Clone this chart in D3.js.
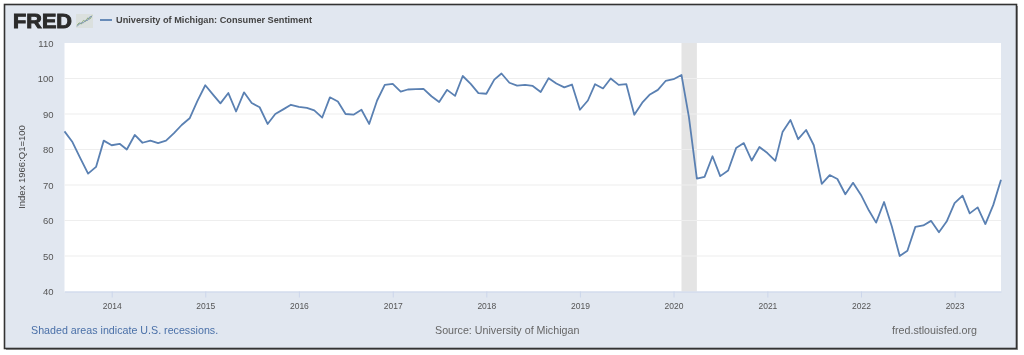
<!DOCTYPE html>
<html>
<head>
<meta charset="utf-8">
<script src="https://cdn.jsdelivr.net/npm/d3@7"></script>
<style>
  html, body { margin: 0; padding: 0; background: #fff; }
  svg { display: block; font-family: "Liberation Sans", Arial, sans-serif; filter: blur(0.4px); }
</style>
</head>
<body>
<div id="chart"></div>
<script>
// monthly values, Jul 2013 .. Jul 2023
const startMonth = [2013, 6];
const sentiment2013 = [85.1, 82.1, 77.5, 73.2, 75.1, 82.5];
const sentiment2014 = [81.2, 81.6, 80.0, 84.1, 81.9, 82.5, 81.8, 82.5, 84.6, 86.9, 88.8, 93.6];
const sentiment2015 = [98.1, 95.4, 93.0, 95.9, 90.7, 96.1, 93.1, 91.9, 87.2, 90.0, 91.3, 92.6];
const sentiment2016 = [92.0, 91.7, 91.0, 89.0, 94.7, 93.5, 90.0, 89.8, 91.2, 87.2, 93.8, 98.2];
const sentiment2017 = [98.5, 96.3, 96.9, 97.0, 97.1, 95.0, 93.4, 96.8, 95.1, 100.7, 98.5, 95.9];
const sentiment2018 = [95.7, 99.7, 101.4, 98.8, 98.0, 98.2, 97.9, 96.2, 100.1, 98.6, 97.5, 98.3];
const sentiment2019 = [91.2, 93.8, 98.4, 97.2, 100.0, 98.2, 98.4, 89.8, 93.2, 95.5, 96.8, 99.3];
const sentiment2020 = [99.8, 101.0, 89.1, 71.8, 72.3, 78.1, 72.5, 74.1, 80.4, 81.8, 76.9, 80.7];
const sentiment2021 = [79.0, 76.8, 84.9, 88.3, 82.9, 85.5, 81.2, 70.3, 72.8, 71.7, 67.4, 70.6];
const sentiment2022 = [67.2, 62.8, 59.4, 65.2, 58.4, 50.0, 51.5, 58.2, 58.6, 59.9, 56.7, 59.7];
const sentiment2023 = [64.9, 67.0, 62.0, 63.7, 59.0, 64.4, 71.5];

const yTicks = [40, 50, 60, 70, 80, 90, 100, 110];
const xTickYears = [2014, 2015, 2016, 2017, 2018, 2019, 2020, 2021, 2022, 2023];
const recession = [new Date(2020, 1, 1), new Date(2020, 3, 1)];

const seriesName = "University of Michigan: Consumer Sentiment";
const yTitle = "Index 1966:Q1=100";
const noteText = "Shaded areas indicate U.S. recessions.";
const sourceText = "Source: University of Michigan";
const siteText = "fred.stlouisfed.org";

// little sparkline in the logo badge
const logoLineA = [1, 3, 2, 5, 4, 7, 6, 9];
const logoLineB = [0, 2, 3, 3, 5, 5, 8, 8];

const values = [].concat(sentiment2013, sentiment2014, sentiment2015, sentiment2016,
    sentiment2017, sentiment2018, sentiment2019, sentiment2020, sentiment2021,
    sentiment2022, sentiment2023);
const data = values.map((v, i) => ({ date: new Date(startMonth[0], startMonth[1] + i, 1), value: v }));

const width = 1024;
const height = 355;
const plot = { l: 64.5, r: 1001, t: 43, b: 291.5 };

const svg = d3.select("#chart").append("svg")
    .attr("width", width)
    .attr("height", height)
    .attr("viewBox", `0 0 ${width} ${height}`);

// outer frame
svg.append("rect").attr("x", 6).attr("y", 6).attr("width", 1012).attr("height", 344).attr("fill", "#999");
svg.append("rect").attr("x", 4.5).attr("y", 4.5).attr("width", 1012).attr("height", 344)
    .attr("fill", "#e1e7f0").attr("stroke", "#333").attr("stroke-width", 1.6);

svg.append("rect").attr("x", plot.l).attr("y", plot.t)
    .attr("width", plot.r - plot.l).attr("height", plot.b - plot.t).attr("fill", "#fff");

const x = d3.scaleTime()
    .domain([data[0].date, data[data.length - 1].date])
    .range([plot.l, plot.r]);
const y = d3.scaleLinear().domain([40, 110]).range([plot.b, plot.t]);

// recession band
svg.append("rect")
    .attr("x", x(recession[0])).attr("y", plot.t)
    .attr("width", x(recession[1]) - x(recession[0])).attr("height", plot.b - plot.t)
    .attr("fill", "#e4e4e4");

// grid
svg.append("g").selectAll("line").data(yTicks.filter(d => d > 40 && d < 110)).join("line")
    .attr("x1", plot.l).attr("x2", plot.r)
    .attr("y1", d => y(d)).attr("y2", d => y(d))
    .attr("stroke", "#eeeeee").attr("stroke-width", 1.2);

// axes
const yAxisG = svg.append("g").attr("transform", `translate(${plot.l},0)`)
    .call(d3.axisLeft(y).tickValues(yTicks).tickSize(0).tickPadding(11));
yAxisG.select(".domain").remove();
yAxisG.selectAll("text").attr("font-size", 9.5).attr("fill", "#555").attr("font-family", "Liberation Sans");

const xAxisG = svg.append("g").attr("transform", `translate(0,${plot.b})`)
    .call(d3.axisBottom(x)
        .tickValues(xTickYears.map(yr => new Date(yr, 0, 1)))
        .tickFormat(d3.timeFormat("%Y"))
        .tickSize(6).tickPadding(5).tickSizeOuter(0));
xAxisG.select(".domain").attr("stroke", "#ccd6eb");
xAxisG.selectAll("line").attr("stroke", "#ccd6eb");
xAxisG.selectAll("text").attr("font-size", 8.5).attr("fill", "#555").attr("font-family", "Liberation Sans");

svg.append("text")
    .attr("transform", "translate(24.5,167) rotate(-90)")
    .attr("text-anchor", "middle")
    .attr("font-size", 9.5).attr("fill", "#444")
    .text(yTitle);

// series
const line = d3.line().x(d => x(d.date)).y(d => y(d.value));
svg.append("path").datum(data)
    .attr("d", line)
    .attr("fill", "none")
    .attr("stroke", "#5a80b2")
    .attr("stroke-width", 1.8)
    .attr("stroke-linejoin", "round");

// logo
svg.append("text").attr("x", 13).attr("y", 28)
    .attr("font-size", 19.5).attr("font-weight", "bold").attr("fill", "#2b2b2b")
    .attr("stroke", "#2b2b2b").attr("stroke-width", 0.9)
    .attr("textLength", 59).attr("lengthAdjust", "spacingAndGlyphs")
    .text("FRED");

const badge = svg.append("g").attr("transform", "translate(76,14)");
badge.append("rect").attr("width", 17).attr("height", 14).attr("fill", "#dbe0de");
const bx = d3.scaleLinear().domain([0, logoLineA.length - 1]).range([1, 16]);
const by = d3.scaleLinear().domain([0, 9]).range([12.5, 1.5]);
const bline = d3.line().x((d, i) => bx(i)).y(d => by(d));
badge.append("path").attr("d", bline(logoLineA)).attr("fill", "none").attr("stroke", "#8fae7c").attr("stroke-width", 1);
badge.append("path").attr("d", bline(logoLineB)).attr("fill", "none").attr("stroke", "#7f97b5").attr("stroke-width", 1);

// legend
svg.append("line").attr("x1", 100).attr("x2", 112).attr("y1", 20).attr("y2", 20)
    .attr("stroke", "#5a80b2").attr("stroke-width", 1.8);
svg.append("text").attr("x", 116).attr("y", 23)
    .attr("font-size", 9.2).attr("font-weight", "bold").attr("fill", "#444")
    .text(seriesName);

// footer
svg.append("text").attr("x", 31).attr("y", 334)
    .attr("font-size", 10.7).attr("fill", "#4a70a8").text(noteText);
svg.append("text").attr("x", 435).attr("y", 334)
    .attr("font-size", 10.7).attr("fill", "#666").text(sourceText);
svg.append("text").attr("x", 892).attr("y", 334)
    .attr("font-size", 10.7).attr("fill", "#666").text(siteText);
</script>
</body>
</html>
